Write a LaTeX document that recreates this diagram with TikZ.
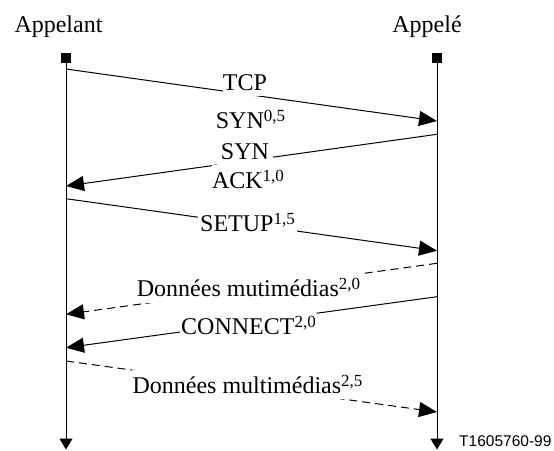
\documentclass[tikz,border=0pt]{standalone}
\usepackage{fontspec}
\setmainfont{Liberation Serif}
\newfontfamily\figsans{Liberation Sans}
\usetikzlibrary{arrows.meta}
\newcommand\supr[1]{\raisebox{7pt}{\fontsize{17}{17}\selectfont #1}}
\tikzset{
  big/.style={font=\fontsize{24}{28}\selectfont, anchor=base, inner sep=0pt},
  lbl/.style={big, fill=white},
  life/.style={line width=1pt, -{Triangle[length=11pt,width=13pt]}},
  msg/.style={line width=1pt, -{Triangle[length=18pt,width=15pt]}},
  dmsg/.style={msg, dash pattern=on 8pt off 5pt},
  head/.style={fill=black, minimum size=10pt, inner sep=0pt},
}
\begin{document}
\begin{tikzpicture}[x=1pt,y=-1pt]
\useasboundingbox (0,0) rectangle (554,450);
% headers
\node[big] (hA) at (58.5,32) {Appelant};
\node[big] (hB) at (427,32) {Appelé};
% lifeline heads
\node[head] (sA) at (66,57.7) {};
\node[head] (sB) at (437,57.7) {};
\coordinate (eA) at (66,449.5);
\coordinate (eB) at (437,449.5);
\draw[life] (sA.south) -- (eA);
\draw[life] (sB.south) -- (eB);
% message end points
\coordinate (m1a) at (66,69);    \coordinate (m1b) at (437,121);
\coordinate (m2a) at (437,134.3);\coordinate (m2b) at (66,186);
\coordinate (m3a) at (66,198.7); \coordinate (m3b) at (437,250.7);
\coordinate (m4a) at (437,263.3);\coordinate (m4b) at (66,314.3);
\coordinate (m5a) at (437,296.7);\coordinate (m5b) at (66,347.7);
\coordinate (m6a) at (66,361);   \coordinate (m6b) at (437,412);
\draw[msg] (m1a) -- (m1b);
\draw[msg] (m2a) -- (m2b);
\draw[msg] (m3a) -- (m3b);
\draw[dmsg] (m4a) -- (m4b);
\draw[msg] (m5a) -- (m5b);
\draw[dmsg] (m6a) -- (m6b);
% labels
\node[lbl, text depth=5.5pt] (l1) at (245,90.7) {TCP};
\node[big] (l1b) at (250.5,128) {SYN\supr{0,5}};
\node[lbl, inner xsep=3.5pt, text depth=6pt] (l2) at (245,159) {SYN};
\node[lbl, text height=23.5pt] (l2b) at (248,188.3) {ACK\supr{1,0}};
\node[lbl, inner xsep=2.5pt, inner ysep=1pt] (l3) at (247.5,231.7) {SETUP\supr{1,5}};
\node[lbl, inner xsep=3pt, text height=24pt, text depth=6.3pt] (l4) at (248.5,296.7) {Données mutimédias\supr{2,0}};
\node[lbl, inner xsep=1pt, text height=21pt] (l5) at (248.5,334.3) {CONNECT\supr{2,0}};
\node[lbl, inner xsep=0.5pt, text height=23.5pt, text depth=6pt] (l6) at (247.5,393.3) {Données multimédias\supr{2,5}};
\node[font=\figsans\fontsize{15.5}{18}\selectfont, anchor=base west, inner sep=0pt] (ref) at (459,446) {T1605760-99};
\end{tikzpicture}
\end{document}
